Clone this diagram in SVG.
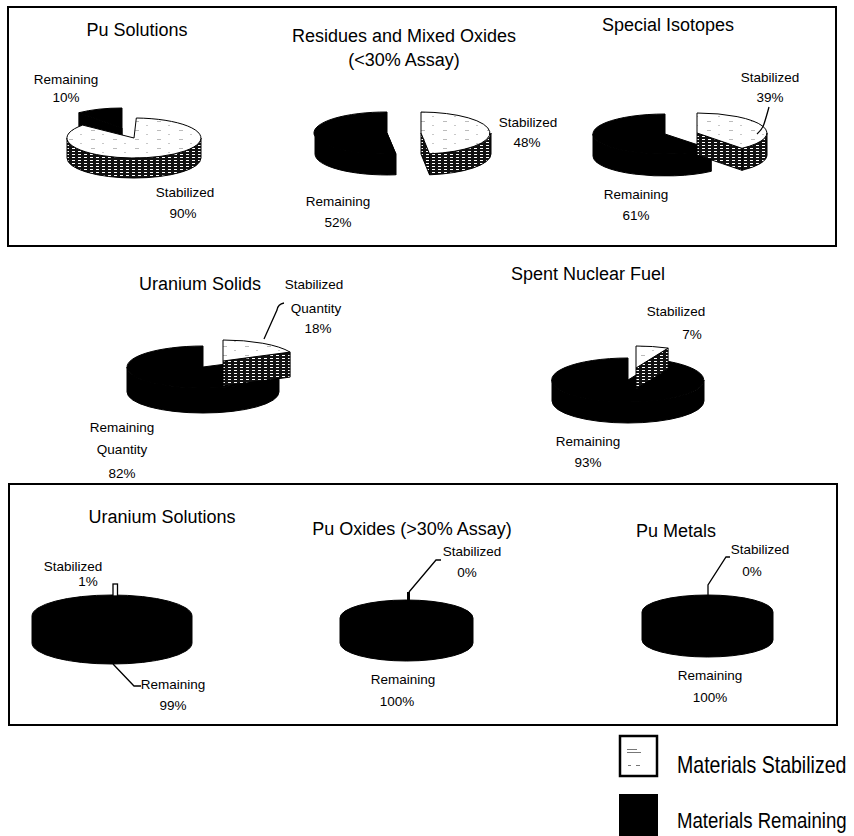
<svg xmlns="http://www.w3.org/2000/svg" width="854" height="836" viewBox="0 0 854 836">
<style>
text{font-family:"Liberation Sans",Arial,sans-serif;fill:#000;text-anchor:middle}
.t{font-size:18px}
.l{font-size:13.5px}
.g{font-size:23px;text-anchor:start}
.box{fill:none;stroke:#000;stroke-width:2}
.blk{fill:#000;stroke:#000;stroke-width:1;stroke-linejoin:round}
.top{fill:url(#dots);stroke:#000;stroke-width:1}
.side{fill:url(#hatch);stroke:#000;stroke-width:1}
.lead{fill:none;stroke:#000;stroke-width:1.3}
</style>
<defs>
<pattern id="hatch" width="6" height="3" patternUnits="userSpaceOnUse"><rect width="6" height="3" fill="#111"/><rect x="0" y="1" width="3" height="1" fill="#fff"/></pattern>
<pattern id="dots" width="22" height="9" patternUnits="userSpaceOnUse"><rect width="22" height="9" fill="#fff"/><rect x="3" y="4" width="4" height="0.8" fill="#aaa"/><rect x="14" y="8" width="2" height="0.8" fill="#bbb"/></pattern>
</defs>
<rect class="box" x="8" y="7" width="828" height="239"/>
<rect class="box" x="9" y="484" width="828" height="241"/>

<g id="pu-solutions">
<text class="t" x="137" y="36">Pu Solutions</text>
<path class="blk" d="M122,128 L122,108 A67,20 0 0,0 78.9,112.7 Z"/>
<path class="blk" d="M122,148 L122,128 A67,20 0 0,0 78.9,132.7 Z"/>
<path class="blk" d="M122,128 L78.9,112.7 L78.9,132.7 L122,148 Z"/>
<path class="side" d="M201,138 A67,20 0 0,1 67,138 L67,158 A67,20 0 0,0 201,158 Z"/>
<path class="top" d="M134,138 L136.3,118 A67,20 0 1,1 82.7,125.1 Z"/>
<text class="l" x="66" y="84">Remaining</text>
<text class="l" x="66" y="102">10%</text>
<text class="l" x="185" y="197">Stabilized</text>
<text class="l" x="183" y="218">90%</text>
</g>

<g id="residues">
<text class="t" x="404" y="42">Residues and Mixed Oxides</text>
<text class="t" x="404" y="66">(&lt;30% Assay)</text>
<path class="blk" d="M395.8,153.8 A72,21 0 0,1 315,133 L315,154 A72,21 0 0,0 395.8,174.8 Z"/>
<path class="blk" d="M387,133 L395.8,153.8 L395.8,174.8 L387,154 Z"/>
<path class="blk" d="M387,133 L395.8,153.8 A72,21 0 1,1 387,112 Z"/>
<path class="side" d="M491,133 A70,21 0 0,1 429.5,153.8 L429.5,174.8 A70,21 0 0,0 491,154 Z"/>
<path class="side" d="M421,133 L429.5,153.8 L429.5,174.8 L421,154 Z"/>
<path class="top" d="M421,133 L421,112 A70,21 0 0,1 429.5,153.8 Z"/>
<text class="l" x="528" y="127">Stabilized</text>
<text class="l" x="527" y="147">48%</text>
<text class="l" x="338" y="206">Remaining</text>
<text class="l" x="338" y="227">52%</text>
</g>

<g id="special-isotopes">
<text class="t" x="668" y="31">Special Isotopes</text>
<path class="blk" d="M711.3,149.3 A72,20 0 0,1 593,134 L593,156 A72,20 0 0,0 711.3,171.3 Z"/>
<path class="blk" d="M665,134 L711.3,149.3 A72,20 0 1,1 665,114 Z"/>
<path class="side" d="M767,133 A70,20 0 0,1 742,148.3 L742,170.3 A70,20 0 0,0 767,155 Z"/>
<path class="side" d="M697,133 L742,148.3 L742,170.3 L697,155 Z"/>
<path class="top" d="M697,133 L697,113 A70,20 0 0,1 742,148.3 Z"/>
<text class="l" x="770" y="82">Stabilized</text>
<text class="l" x="770" y="102">39%</text>
<text class="l" x="636" y="199">Remaining</text>
<text class="l" x="636" y="220">61%</text>
</g>

<g id="uranium-solids">
<text class="t" x="200" y="290">Uranium Solids</text>
<path class="blk" d="M279,367 A76,21 0 0,1 127,367 L127,392 A76,21 0 0,0 279,392 Z"/>
<path class="blk" d="M203,367 L271.9,358.1 A76,21 0 1,1 203,346 Z"/>
<path class="side" d="M223,361 L290.1,352.1 L290.1,377.1 L223,386 Z"/>
<path class="top" d="M223,361 L223,340 A74,21 0 0,1 290.1,352.1 Z"/>
<text class="l" x="314" y="289">Stabilized</text>
<text class="l" x="316" y="313">Quantity</text>
<text class="l" x="318" y="333">18%</text>
<text class="l" x="122" y="432">Remaining</text>
<text class="l" x="122" y="454">Quantity</text>
<text class="l" x="122" y="478">82%</text>
</g>

<g id="spent-nuclear-fuel">
<text class="t" x="588" y="280">Spent Nuclear Fuel</text>
<path class="blk" d="M704,380 A76,22 0 0,1 552,380 L552,401 A76,22 0 0,0 704,401 Z"/>
<path class="blk" d="M628,380 L660.1,360.1 A76,22 0 1,1 628,358 Z"/>
<path class="side" d="M636,368 L668.1,348.1 L668.1,369.1 L636,389 Z"/>
<path class="top" d="M636,368 L636,346 A76,22 0 0,1 668.1,348.1 Z"/>
<text class="l" x="676" y="316">Stabilized</text>
<text class="l" x="692" y="339">7%</text>
<text class="l" x="588" y="446">Remaining</text>
<text class="l" x="588" y="467">93%</text>
</g>

<g id="uranium-solutions">
<text class="t" x="162" y="523">Uranium Solutions</text>
<path class="blk" d="M32,616 A80,21 0 0,1 192,616 L192,643 A80,21 0 0,1 32,643 Z"/>
<rect x="113" y="584" width="4.5" height="12" fill="#fff" stroke="#000" stroke-width="1.3"/>
<text class="l" x="73" y="571">Stabilized</text>
<text class="l" x="88" y="586">1%</text>
<text class="l" x="173" y="689">Remaining</text>
<text class="l" x="173" y="710">99%</text>
</g>

<g id="pu-oxides">
<text class="t" x="412" y="535">Pu Oxides (&gt;30% Assay)</text>
<path class="blk" d="M340,618 A66.5,18 0 0,1 473,618 L473,643 A66.5,18 0 0,1 340,643 Z"/>
<rect x="407" y="592" width="3" height="9" fill="#000"/>
<text class="l" x="472" y="556">Stabilized</text>
<text class="l" x="467" y="577">0%</text>
<text class="l" x="403" y="684">Remaining</text>
<text class="l" x="397" y="706">100%</text>
</g>

<g id="pu-metals">
<text class="t" x="676" y="537">Pu Metals</text>
<path class="blk" d="M642,612 A65.5,17 0 0,1 773,612 L773,640 A65.5,17 0 0,1 642,640 Z"/>
<text class="l" x="760" y="554">Stabilized</text>
<text class="l" x="752" y="576">0%</text>
<text class="l" x="710" y="680">Remaining</text>
<text class="l" x="710" y="702">100%</text>
</g>

<g id="connectors">
<path class="lead" d="M769,107 Q766,118 764,124 Q762,130 757,134"/>
<path class="lead" d="M284,303 Q278,304 277,310 L264,339"/>
<path class="lead" d="M113,664 L134,686 L141,686"/>
<path class="lead" d="M441,560 L436,560 L409,592"/>
<path class="lead" d="M730,557 L726,557 L708,585 L708,596"/>
</g>

<g id="legend">
<rect x="620" y="736" width="37" height="40" fill="#fff" stroke="#000" stroke-width="2.5"/>
<rect x="627" y="749" width="10" height="1" fill="#777"/>
<rect x="627" y="752" width="14" height="1" fill="#777"/>
<rect x="628" y="765" width="3" height="1" fill="#777"/>
<rect x="636" y="765" width="4" height="1" fill="#777"/>
<rect x="619" y="794" width="39" height="42" fill="#000"/>
<text class="g" transform="translate(677 773) scale(0.85 1)" x="0" y="0">Materials Stabilized</text>
<text class="g" transform="translate(677 828) scale(0.81 1)" x="0" y="0">Materials Remaining</text>
</g>
</svg>
